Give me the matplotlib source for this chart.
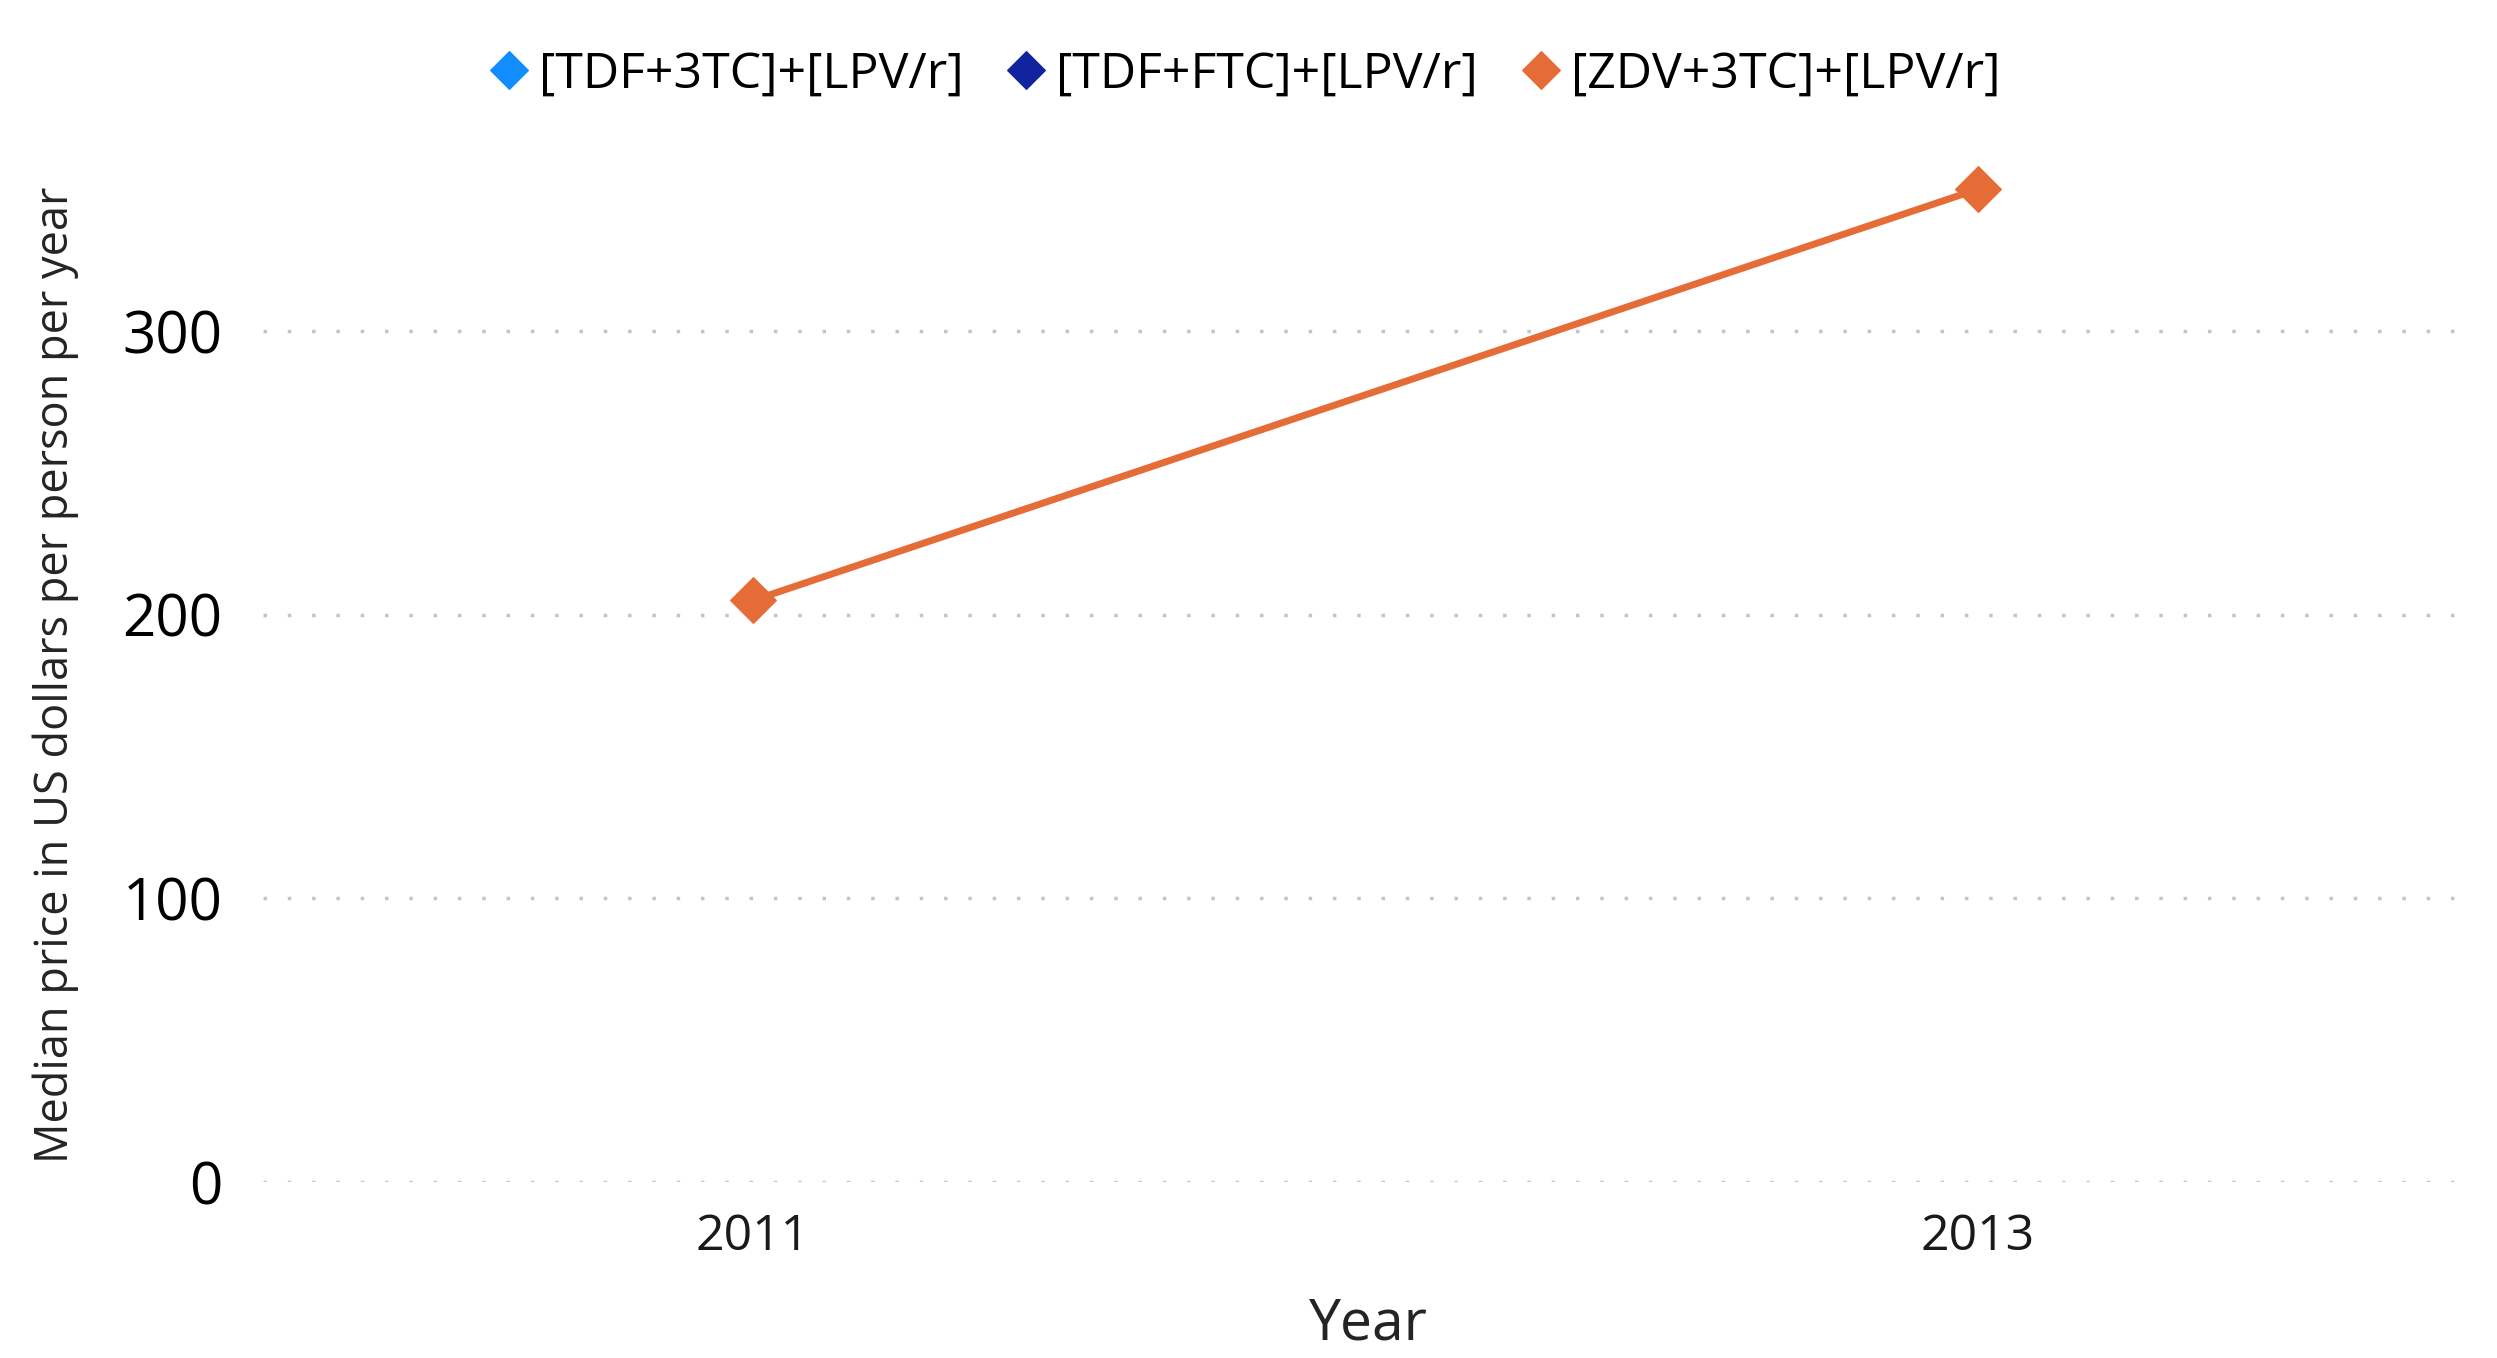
import matplotlib
matplotlib.use("Agg")
import matplotlib.pyplot as plt
import numpy as np

plt.rcParams['font.family'] = ['Open Sans', 'DejaVu Sans']

years = [2011, 2013]
series_names = ["[TDF+3TC]+[LPV/r]", "[TDF+FTC]+[LPV/r]", "[ZDV+3TC]+[LPV/r]"]
tdf_3tc = [np.nan, np.nan]
tdf_ftc = [np.nan, np.nan]
zdv_3tc = [205, 350]
colors = ["#118DFF", "#12239E", "#E66C37"]
y_ticks = [0, 100, 200, 300]
x_ticks = [2011, 2013]

fig = plt.figure(figsize=(24.97, 13.58), dpi=100)
ax = fig.add_axes([0.1053, 0.1296, 0.8831, 0.7938])

for vals, name, c in zip([tdf_3tc, tdf_ftc, zdv_3tc], series_names, colors):
    ax.plot(years, vals, color=c, lw=5, marker='D', ms=23, mec=c,
            mew=0.8, label=name, solid_capstyle='round')

ax.set_xlim(2010.2, 2013.8)
ax.set_ylim(0, 380)
ax.set_yticks(y_ticks)
ax.set_xticks(x_ticks)
ax.set_xticklabels([str(x) for x in x_ticks])
ax.tick_params(axis='y', length=0, pad=29, labelsize=42, labelcolor='black')
ax.tick_params(axis='x', length=0, pad=22, labelsize=36, labelcolor='#1a1a1a')
for s in ax.spines.values():
    s.set_visible(False)
ax.grid(axis='y', color='#C4C4C4', lw=2.5, linestyle=(0, (1.0, 6.0)))
ax.grid(axis='x', visible=False)
ax.set_axisbelow(True)

fig.text(0.0224, 0.503, "Median price in US dollars per person per year",
         rotation=90, ha='center', va='center', fontsize=32.5, color='#252423')
fig.text(0.548, 0.0246, "Year", ha='center', va='center', fontsize=41,
         color='#252423')

handles, labels = ax.get_legend_handles_labels()
leg = fig.legend(handles, labels, loc='center', bbox_to_anchor=(0.4995, 0.945),
                 ncol=3, frameon=False, fontsize=36, handlelength=0.6,
                 handletextpad=0.3, columnspacing=0.95, markerscale=0.85)
for h in leg.legend_handles:
    h.set_linestyle('None')

fig.savefig("out.png", dpi=100)
